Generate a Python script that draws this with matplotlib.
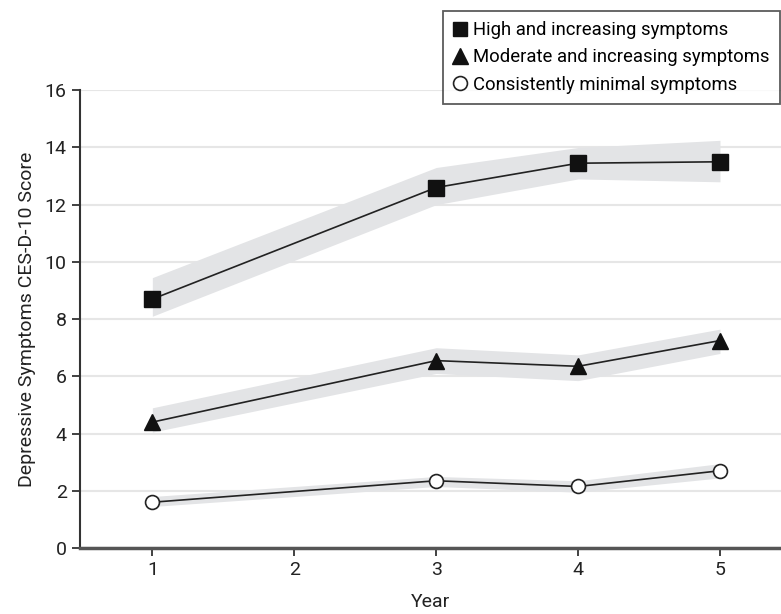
import numpy as np
import matplotlib
matplotlib.use("Agg")
from matplotlib import pyplot as plt
from matplotlib.lines import Line2D

plt.rcParams['font.family'] = ['Roboto', 'DejaVu Sans']

YEARS = [1, 3, 4, 5]

HIGH = [8.7, 12.6, 13.45, 13.5]
HIGH_LO = [8.1, 12.0, 12.9, 12.8]
HIGH_HI = [9.45, 13.3, 14.0, 14.25]

MODERATE = [4.4, 6.55, 6.35, 7.25]
MODERATE_LO = [4.05, 6.1, 5.85, 6.8]
MODERATE_HI = [4.9, 7.0, 6.75, 7.65]

MINIMAL = [1.6, 2.35, 2.15, 2.7]
MINIMAL_LO = [1.45, 2.15, 1.95, 2.45]
MINIMAL_HI = [1.8, 2.5, 2.35, 2.95]

LABELS = ["High and increasing symptoms",
          "Moderate and increasing symptoms",
          "Consistently minimal symptoms"]

fig = plt.figure(figsize=(7.81, 6.14), dpi=100)
ax = fig.add_axes([0.1024, 0.1075, 0.8976, 0.7455])

band = "#e3e4e6"
for lo, hi in [(HIGH_LO, HIGH_HI), (MODERATE_LO, MODERATE_HI), (MINIMAL_LO, MINIMAL_HI)]:
    ax.fill_between(YEARS, lo, hi, color=band, lw=0, zorder=2)

ax.plot(YEARS, HIGH, color="#222222", lw=1.2, marker="s", ms=11,
        mfc="#111111", mec="#111111", zorder=4)
ax.plot(YEARS, MODERATE, color="#222222", lw=1.2, marker="^", ms=11,
        mfc="#111111", mec="#111111", zorder=4)
ax.plot(YEARS, MINIMAL, color="#222222", lw=1.2, marker="o", ms=10,
        mfc="white", mec="#222222", mew=1.2, zorder=4)

ax.set_xlim(0.49, 5.43)
ax.set_ylim(0, 16)
ax.set_xticks([1, 2, 3, 4, 5])
ax.set_yticks(np.arange(0, 17, 2))
ax.yaxis.grid(True, color="#e6e6e6", lw=1.5, zorder=0)
ax.set_axisbelow(True)

for s in ["top", "right"]:
    ax.spines[s].set_visible(False)
ax.spines["left"].set_color("#333333")
ax.spines["left"].set_linewidth(1.5)
ax.spines["bottom"].set_color("#555555")
ax.spines["bottom"].set_linewidth(2.5)
ax.tick_params(axis="both", direction="out", length=6, width=1.3,
               colors="#333333", labelsize=14, labelcolor="#222222")

ax.set_xlabel("Year", fontsize=14, color="#222222", labelpad=10)
ax.set_ylabel("Depressive Symptoms CES-D-10 Score", fontsize=14,
              color="#222222", labelpad=6)

handles = [
    Line2D([], [], ls="none", marker="s", ms=10, mfc="#111111", mec="#111111"),
    Line2D([], [], ls="none", marker="^", ms=11, mfc="#111111", mec="#111111"),
    Line2D([], [], ls="none", marker="o", ms=10, mfc="white", mec="#222222", mew=1.2),
]
leg = fig.legend(handles, LABELS, loc="upper left", bbox_to_anchor=(0.567, 0.982),
                 fontsize=13.3, frameon=True, fancybox=False, handlelength=0.8,
                 handletextpad=0.3, labelspacing=0.5, borderpad=0.55,
                 borderaxespad=0)
leg.get_frame().set_edgecolor("#333333")
leg.get_frame().set_linewidth(1.3)

fig.savefig("out.png", dpi=100)
